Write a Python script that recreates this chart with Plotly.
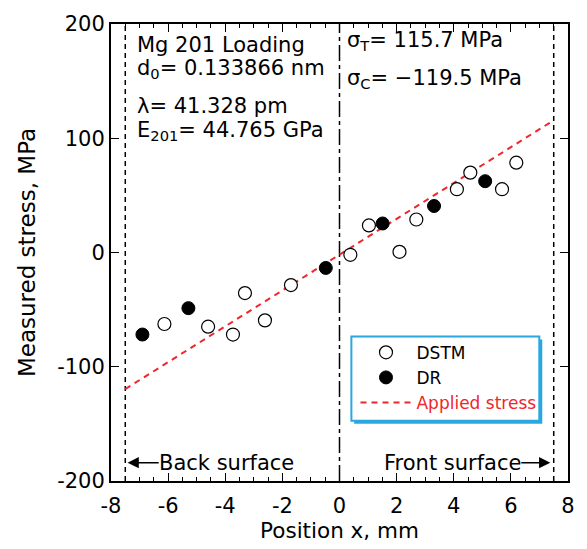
import plotly.graph_objects as go

# ---- data ----
dstm_x = [-6.13, -4.60, -3.73, -3.31, -2.61, -1.70, 0.38, 1.03, 2.10, 2.69, 4.11, 4.58, 5.69, 6.19]
dstm_y = [-62.6, -64.9, -71.8, -35.5, -59.4, -28.5, -2.0, 23.7, 0.6, 28.9, 55.4, 69.9, 55.4, 78.6]
dr_x = [-6.90, -5.29, -0.48, 1.51, 3.31, 5.10]
dr_y = [-71.8, -48.7, -13.5, 25.4, 40.7, 62.4]
applied_x = [-7.5, 7.5]
applied_y = [-119.5, 115.7]
surface_x = [-7.5, 7.5]
center_x = [0]
x_ticks = [-8, -6, -4, -2, 0, 2, 4, 6, 8]
x_ticktext = ["-8", "-6", "-4", "-2", "0", "2", "4", "6", "8"]
y_ticks = [-200, -100, 0, 100, 200]
y_ticktext = ["-200", "-100", "0", "100", "200"]

FONT = "DejaVu Sans, Liberation Sans, Arial, sans-serif"
BLUE = "#2aa7df"
RED = "#f0262b"

fig = go.Figure()

fig.add_trace(go.Scatter(
    x=applied_x, y=applied_y, mode="lines",
    line=dict(color=RED, width=2, dash="6px,5px"),
    name='<span style="color:#f0262b">Applied stress</span>', legendrank=3))
fig.add_trace(go.Scatter(
    x=dstm_x, y=dstm_y, mode="markers",
    marker=dict(symbol="circle", size=13, color="white", line=dict(color="black", width=1.2)),
    name="DSTM", legendrank=1))
fig.add_trace(go.Scatter(
    x=dr_x, y=dr_y, mode="markers",
    marker=dict(symbol="circle", size=13, color="black", line=dict(color="black", width=1)),
    name="DR", legendrank=2))

# vertical reference lines
for xv in surface_x:
    fig.add_shape(type="line", xref="x", yref="paper", x0=xv, x1=xv, y0=0, y1=1,
                  line=dict(color="black", width=1.5, dash="5px,4px"), layer="below")
for xv in center_x:
    fig.add_shape(type="line", xref="x", yref="paper", x0=xv, x1=xv, y0=0, y1=1,
                  line=dict(color="black", width=1.5, dash="16px,4px,4px,4px"), layer="below")

# legend frame with shadow
fig.add_shape(type="rect", xref="paper", yref="paper",
              x0=0.532, x1=0.9437, y0=0.1255, y1=0.3095,
              fillcolor=BLUE, line=dict(width=0), layer="above")
fig.add_shape(type="rect", xref="paper", yref="paper",
              x0=0.526, x1=0.9372, y0=0.132, y1=0.316,
              fillcolor="white", line=dict(color=BLUE, width=2), layer="above")

ann = []
def txt(x, y, s, xanchor="left", size=21, color="black"):
    ann.append(dict(x=x, y=y, xref="x", yref="y", text=s, showarrow=False,
                    xanchor=xanchor, yanchor="middle", font=dict(size=size, color=color, family=FONT)))

txt(-7.15, 182, "Mg 201 Loading")
txt(-7.15, 161, "d<sub>0</sub>= 0.133866 nm")
txt(-7.15, 128, "λ= 41.328 pm")
txt(-7.15, 106, "E<sub>201</sub>= 44.765 GPa")
txt(0.2, 185, "σ<sub>T</sub>= 115.7 MPa")
txt(0.2, 152, "σ<sub>C</sub>= −119.5 MPa")

# surface labels with arrows
ann.append(dict(x=-7.42, y=-184, ax=-3.95, ay=-184, xref="x", yref="y", axref="x", ayref="y",
                text="Back surface", showarrow=True, arrowhead=2, arrowsize=1.5, arrowwidth=1.5,
                arrowcolor="black", standoff=0, startstandoff=0, borderpad=0,
                font=dict(size=21, family=FONT, color="black")))
ann.append(dict(x=7.38, y=-184, ax=3.95, ay=-184, xref="x", yref="y", axref="x", ayref="y",
                text="Front surface", showarrow=True, arrowhead=2, arrowsize=1.5, arrowwidth=1.5,
                arrowcolor="black", standoff=0, startstandoff=0, borderpad=0,
                font=dict(size=21, family=FONT, color="black")))

fig.update_layout(
    width=587, height=549,
    margin=dict(l=111, r=14, t=19, b=68),
    paper_bgcolor="white", plot_bgcolor="white",
    font=dict(family=FONT, size=20, color="black"),
    annotations=ann,
    showlegend=True,
    legend=dict(x=0.535, y=0.32, xanchor="left", yanchor="top",
                bgcolor="rgba(0,0,0,0)", borderwidth=0,
                font=dict(size=17, family=FONT, color="black"),
                itemwidth=51, tracegroupgap=0),
)

fig.update_xaxes(range=[-8, 8], tickmode="array", tickvals=x_ticks, ticktext=x_ticktext,
                 ticks="inside", ticklen=8, tickwidth=1, tickcolor="black",
                 minor=dict(dtick=0.5, ticks="inside", ticklen=4, tickwidth=1, tickcolor="black"),
                 showline=True, linecolor="black", linewidth=2, mirror="allticks",
                 showgrid=False, zeroline=False, ticklabelstandoff=5,
                 tickfont=dict(size=21), title=dict(text="Position x, mm", font=dict(size=21.5), standoff=3))
fig.update_yaxes(range=[-200, 200], tickmode="array", tickvals=y_ticks, ticktext=y_ticktext,
                 ticks="inside", ticklen=8, tickwidth=1, tickcolor="black",
                 showline=True, linecolor="black", linewidth=2, mirror="allticks",
                 showgrid=False, zeroline=False,
                 tickfont=dict(size=21), title=dict(text="Measured stress, MPa", font=dict(size=23), standoff=15))

fig.write_html("out.html", config={"displayModeBar": False},
               post_script="document.body.style.margin='0';")
